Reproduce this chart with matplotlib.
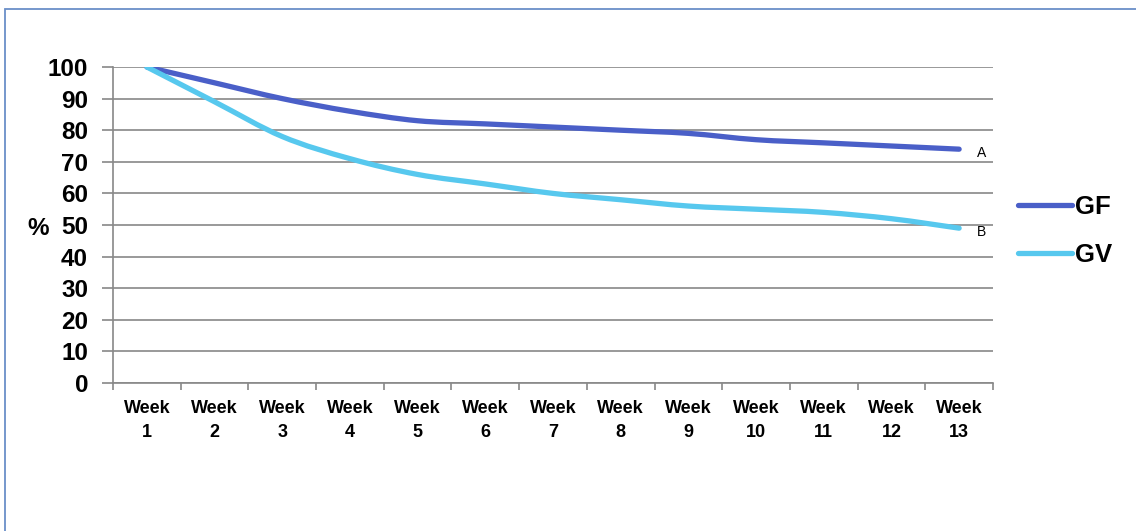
import numpy as np
import matplotlib
matplotlib.use("Agg")
import matplotlib.pyplot as plt
from matplotlib.path import Path
from matplotlib.patches import PathPatch, Rectangle
from matplotlib.lines import Line2D

plt.rcParams['font.family'] = ['Liberation Sans', 'DejaVu Sans']

weeks = [f"Week\n{i}" for i in range(1, 14)]
gf = [100, 95, 90, 86, 83, 82, 81, 80, 79, 77, 76, 75, 74]
gv = [100, 89, 78, 71, 66, 63, 60, 58, 56, 55, 54, 52, 49]
series_names = ["GF", "GV"]
end_labels = ["A", "B"]
colors = ["#4A5FC8", "#57C8EE"]


def smooth_path(x, y, tension=1 / 6):
    """Catmull-Rom style cubic Bezier through the points (a smoothed line)."""
    x = np.asarray(x, float)
    y = np.asarray(y, float)
    n = len(x)
    verts = [(x[0], y[0])]
    codes = [Path.MOVETO]
    for i in range(n - 1):
        p0 = np.array([x[max(i - 1, 0)], y[max(i - 1, 0)]])
        p1 = np.array([x[i], y[i]])
        p2 = np.array([x[i + 1], y[i + 1]])
        p3 = np.array([x[min(i + 2, n - 1)], y[min(i + 2, n - 1)]])
        c1 = p1 + (p2 - p0) * tension
        c2 = p2 - (p3 - p1) * tension
        verts += [tuple(c1), tuple(c2), tuple(p2)]
        codes += [Path.CURVE4] * 3
    return Path(verts, codes)


fig = plt.figure(figsize=(11.36, 5.31), dpi=100)
ax = fig.add_axes([0.0995, 0.2787, 0.7746, 0.5951])

xpos = np.arange(len(weeks))
for vals, c in zip([gf, gv], colors):
    patch = PathPatch(smooth_path(xpos, vals), facecolor="none", edgecolor=c,
                      lw=3.8, capstyle="round", joinstyle="round", zorder=3)
    ax.add_patch(patch)

ax.set_xlim(-0.5, len(weeks) - 0.5)
ax.set_ylim(0, 100)
ax.set_yticks(range(0, 101, 10))
ax.set_yticklabels([str(v) for v in range(0, 101, 10)], fontsize=17.5, fontweight="bold")
ax.set_xticks(xpos)
ax.set_xticklabels(weeks, fontsize=13, fontweight="bold", linespacing=1.6)
ax.set_xticks(np.arange(-0.5, len(weeks)), minor=True)
ax.tick_params(axis="x", which="major", length=0, pad=12)
ax.tick_params(axis="x", which="minor", length=5, color="#888888", width=1.2)
ax.tick_params(axis="y", length=8, color="#888888", width=1.2, pad=10)
ax.grid(axis="y", color="#888888", lw=1.2, zorder=1)
for side in ["top", "right"]:
    ax.spines[side].set_visible(False)
for side in ["left", "bottom"]:
    ax.spines[side].set_color("#888888")
    ax.spines[side].set_linewidth(1.2)

ax.set_ylabel("%", fontsize=17.5, fontweight="bold", rotation=0, va="center")
ax.yaxis.set_label_coords(-0.085, 0.49)

# end-of-line letters
for vals, lab in zip([gf, gv], end_labels):
    ax.annotate(lab, (xpos[-1], vals[-1]), xytext=(12.5, -2.5), textcoords="offset points",
                fontsize=10, va="center", ha="left")

# legend
handles = [Line2D([0], [0], color=c, lw=3.8, solid_capstyle="round") for c in colors]
leg = fig.legend(handles, series_names, loc="center left", bbox_to_anchor=(0.8965, 0.565),
                 frameon=False, prop={"weight": "bold", "size": 18.5}, handlelength=2.1,
                 handletextpad=0.12, labelspacing=0.95, borderpad=0, borderaxespad=0)

# frame around the figure
fig.patches.append(Rectangle((5 / 1136, -0.1), 1.2, 1.1 - 9 / 531, transform=fig.transFigure,
                             fill=False, edgecolor="#6A8FC8", lw=1.3))

fig.savefig("out.png", dpi=100)
